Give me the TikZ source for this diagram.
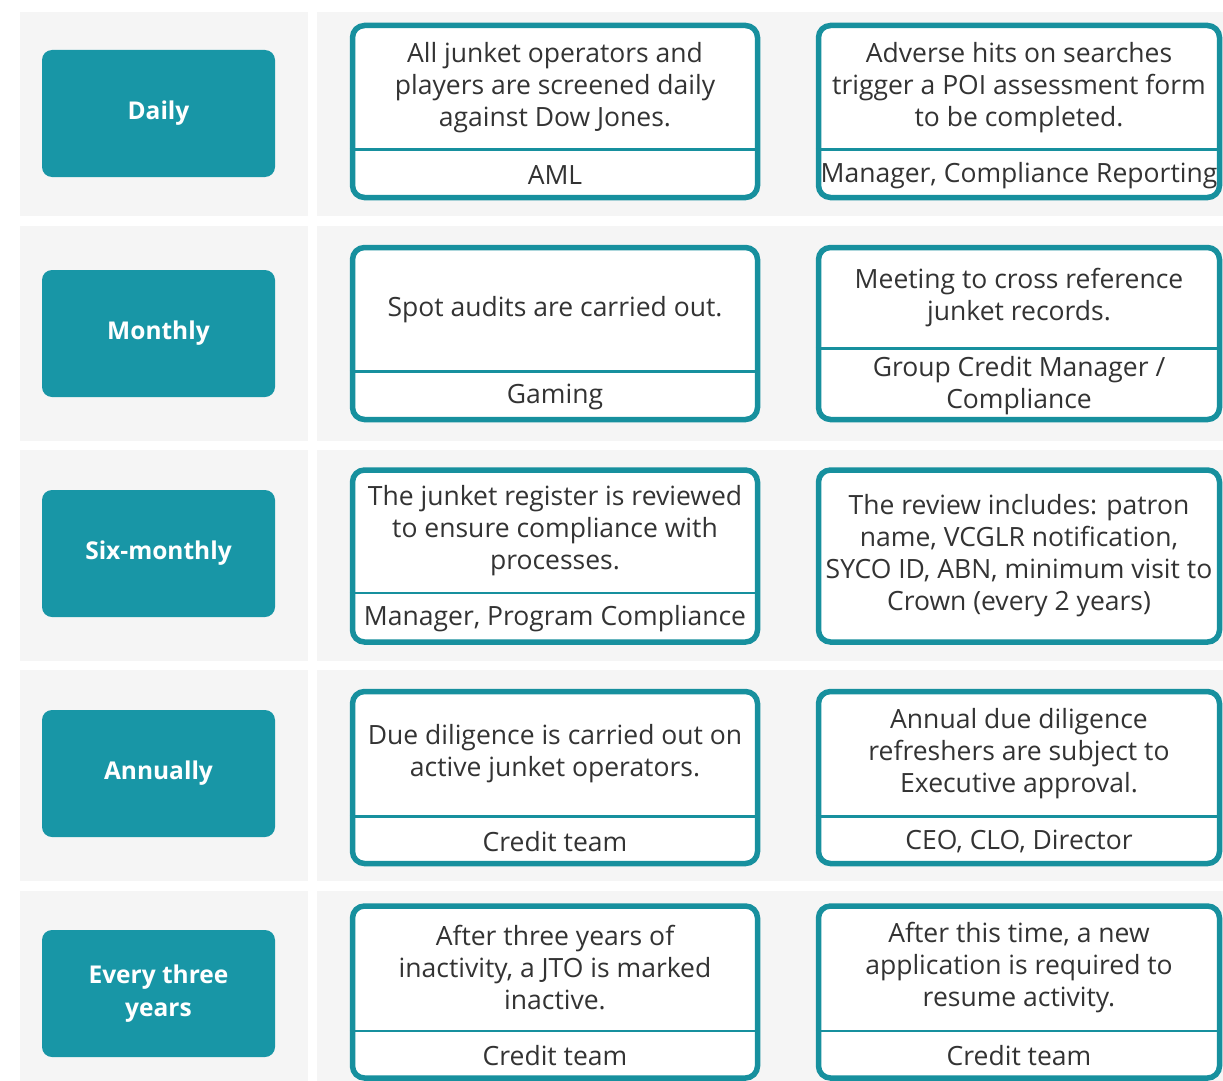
\documentclass[tikz,border=0pt]{standalone}
\usepackage{fontspec}
\setmainfont{Open Sans}
\usepackage{xcolor}
\usepackage{tikz}
\usetikzlibrary{positioning}
\definecolor{teal1}{HTML}{1896A6}
\definecolor{tealline}{HTML}{17909E}
\definecolor{bandgrey}{HTML}{F5F5F5}
\definecolor{inkgrey}{HTML}{333333}

\begin{document}
\begin{tikzpicture}
    [x=1pt, y=-1pt,
    freq/.style={rectangle, rounded corners=10pt,
        fill=teal1, text=white,
        minimum width=233pt, minimum height=127pt,
        align=center, font=\fontsize{24.5}{33}\selectfont\bfseries},
    card/.style={rectangle, rounded corners=12pt,
        draw=tealline, line width=5.5pt, fill=white,
        minimum width=405pt, minimum height=172pt},
    divider/.style={draw=tealline, line width=2.5pt},
    body/.style={align=center, text=inkgrey, inner sep=0pt,
        font=\fontsize{26.5}{32}\selectfont},
    owner/.style={body}]

    % background bands
    \useasboundingbox (0,0) rectangle (1223,1081);
    \foreach \top/\bot in {12/216, 226/441, 450/661, 670/881, 891/1081} {
        \fill[bandgrey] (20,\top) rectangle (308,\bot);
        \fill[bandgrey] (317,\top) rectangle (1223,\bot);
    }

    % frequency labels
    \node[freq] (daily) at (158.5,113.5) {Daily};
    \node[freq] (monthly) at (158.5,333.5) {Monthly};
    \node[freq] (sixmonthly) at (158.5,553.5) {Six-monthly};
    \node[freq] (annually) at (158.5,773.5) {Annually};
    \node[freq] (threeyears) at (158.5,993.5) {Every three\\years};

    % daily
    \node[card] (dailyA) at (555,111.5) {};
    \draw[divider] ([yshift=51pt]dailyA.south west) -- ([yshift=51pt]dailyA.south east);
    \node[body] at ([yshift=24pt]dailyA.center)
        {All junket operators and\\players are screened daily\\against Dow Jones.};
    \node[owner] at ([yshift=25pt]dailyA.south) {AML};

    \node[card, minimum width=401pt] (dailyB) at (1019,111.5) {};
    \draw[divider] ([yshift=51pt]dailyB.south west) -- ([yshift=51pt]dailyB.south east);
    \node[body] at ([yshift=24pt]dailyB.center)
        {Adverse hits on searches\\trigger a POI assessment form\\to be completed.};
    \node[owner] at ([yshift=25pt]dailyB.south) {Manager, Compliance Reporting};

    % monthly
    \node[card] (monthlyA) at (555,333.5) {};
    \draw[divider] ([yshift=51pt]monthlyA.south west) -- ([yshift=51pt]monthlyA.south east);
    \node[body] at ([yshift=24pt]monthlyA.center) {Spot audits are carried out.};
    \node[owner] at ([yshift=25pt]monthlyA.south) {Gaming};

    \node[card, minimum width=401pt] (monthlyB) at (1019,333.5) {};
    \draw[divider] ([yshift=74pt]monthlyB.south west) -- ([yshift=74pt]monthlyB.south east);
    \node[body] at ([yshift=36pt]monthlyB.center)
        {Meeting to cross reference\\junket records.};
    \node[owner] at ([yshift=37pt]monthlyB.south) {Group Credit Manager /\\Compliance};

    % six-monthly
    \node[card] (sixmonthlyA) at (555,556) {};
    \draw[divider] ([yshift=52pt]sixmonthlyA.south west) -- ([yshift=52pt]sixmonthlyA.south east);
    \node[body] at ([yshift=25pt]sixmonthlyA.center)
        {The junket register is reviewed\\to ensure compliance with\\processes.};
    \node[owner] at ([yshift=26pt]sixmonthlyA.south) {Manager, Program Compliance};

    \node[card, minimum width=401pt] (sixmonthlyB) at (1019,556) {};
    \node[body] at (sixmonthlyB.center)
        {The review includes: patron\\name, VCGLR notification,\\SYCO ID, ABN, minimum visit to\\Crown (every 2 years)};

    % annually
    \node[card] (annuallyA) at (555,777.5) {};
    \draw[divider] ([yshift=50pt]annuallyA.south west) -- ([yshift=50pt]annuallyA.south east);
    \node[body] at ([yshift=24pt]annuallyA.center)
        {Due diligence is carried out on\\active junket operators.};
    \node[owner] at ([yshift=25pt]annuallyA.south) {Credit team};

    \node[card, minimum width=401pt] (annuallyB) at (1019,777.5) {};
    \draw[divider] ([yshift=50pt]annuallyB.south west) -- ([yshift=50pt]annuallyB.south east);
    \node[body] at ([yshift=24pt]annuallyB.center)
        {Annual due diligence\\refreshers are subject to\\Executive approval.};
    \node[owner] at ([yshift=25pt]annuallyB.south) {CEO, CLO, Director};

    % every three years
    \node[card] (threeyearsA) at (555,992) {};
    \draw[divider] ([yshift=50pt]threeyearsA.south west) -- ([yshift=50pt]threeyearsA.south east);
    \node[body] at ([yshift=24pt]threeyearsA.center)
        {After three years of\\inactivity, a JTO is marked\\inactive.};
    \node[owner] at ([yshift=25pt]threeyearsA.south) {Credit team};

    \node[card, minimum width=401pt] (threeyearsB) at (1019,992) {};
    \draw[divider] ([yshift=50pt]threeyearsB.south west) -- ([yshift=50pt]threeyearsB.south east);
    \node[body] at ([yshift=24pt]threeyearsB.center)
        {After this time, a new\\application is required to\\resume activity.};
    \node[owner] at ([yshift=25pt]threeyearsB.south) {Credit team};
\end{tikzpicture}
\end{document}
